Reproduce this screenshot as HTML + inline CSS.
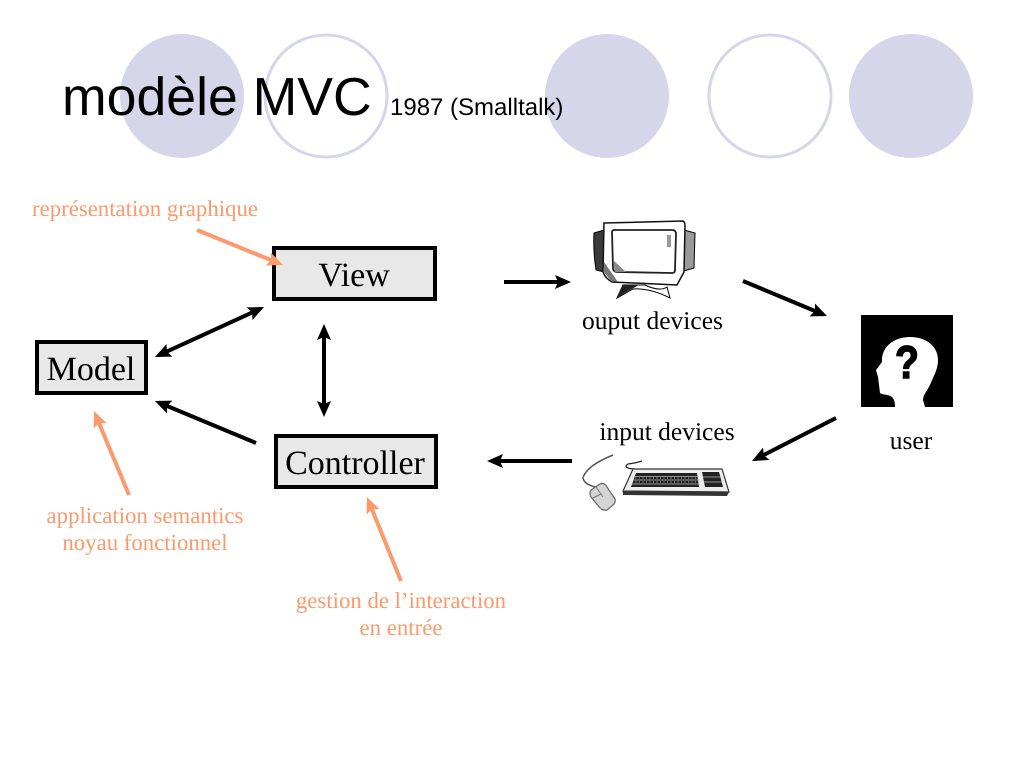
<!DOCTYPE html>
<html>
<head>
<meta charset="utf-8">
<style>
html,body{margin:0;padding:0;background:#fff;width:1024px;height:768px;overflow:hidden}
svg{display:block;text-rendering:geometricPrecision}
.s{font-family:"Liberation Serif",serif}
.o{fill:#fb9a6c;font-size:22.8px;text-anchor:middle}
.b{fill:#000;font-size:34px;text-anchor:middle}
.l{fill:#000;font-size:25.5px;text-anchor:middle}
</style>
</head>
<body>
<svg width="1024" height="768" viewBox="0 0 1024 768" xmlns="http://www.w3.org/2000/svg">
<defs>
<marker id="k" markerUnits="userSpaceOnUse" markerWidth="16" markerHeight="14" refX="12" refY="7" orient="auto-start-reverse"><path d="M0 0L16 7L0 14L3 7Z" fill="#000"/></marker>
<marker id="p" markerUnits="userSpaceOnUse" markerWidth="16" markerHeight="14" refX="12" refY="7" orient="auto"><path d="M0 0L16 7L0 14L3 7Z" fill="#fb9a6c"/></marker>
</defs>
<rect width="1024" height="768" fill="#fff"/>
<circle cx="182" cy="96" r="62" fill="#d6d6eb"/>
<circle cx="326" cy="96" r="61" fill="#fff" stroke="#d6d6eb" stroke-width="3"/>
<circle cx="607" cy="96" r="62" fill="#d6d6eb"/>
<circle cx="770" cy="96" r="61" fill="#fff" stroke="#d6d6eb" stroke-width="3"/>
<circle cx="911" cy="96" r="62" fill="#d6d6eb"/>
<text x="62" y="115" font-family="'Liberation Sans',sans-serif" font-size="53.6" fill="#000">modèle MVC</text>
<text x="390" y="115" font-family="'Liberation Sans',sans-serif" font-size="24" fill="#000">1987 (Smalltalk)</text>

<rect x="274" y="248" width="161" height="51" fill="#e8e8e8" stroke="#000" stroke-width="4"/>
<rect x="37" y="342" width="109" height="51" fill="#e8e8e8" stroke="#000" stroke-width="4"/>
<rect x="276" y="436" width="160" height="51" fill="#e8e8e8" stroke="#000" stroke-width="4"/>
<text class="s b" x="354" y="286">View</text>
<text class="s b" x="91" y="380">Model</text>
<text class="s b" x="355" y="474">Controller</text>

<g stroke="#000" stroke-width="4" fill="none">
<line x1="158.6" y1="355.3" x2="260.4" y2="308.7" marker-start="url(#k)" marker-end="url(#k)"/>
<line x1="324" y1="328" x2="324" y2="413" marker-start="url(#k)" marker-end="url(#k)"/>
<line x1="256" y1="443" x2="158.7" y2="402.5" marker-end="url(#k)"/>
<line x1="504" y1="282" x2="567" y2="282" marker-end="url(#k)"/>
<line x1="743" y1="281" x2="823.3" y2="314.5" marker-end="url(#k)"/>
<line x1="836" y1="418" x2="755.6" y2="459.2" marker-end="url(#k)"/>
<line x1="572" y1="461" x2="491" y2="461" marker-end="url(#k)"/>
</g>
<g stroke="#fb9a6c" stroke-width="4" fill="none">
<line x1="197" y1="230" x2="279.3" y2="263.5" marker-end="url(#p)"/>
<line x1="129" y1="495" x2="95.5" y2="414.7" marker-end="url(#p)"/>
<line x1="401" y1="581" x2="368.5" y2="500.7" marker-end="url(#p)"/>
</g>

<text class="s o" x="145" y="216">représentation graphique</text>
<text class="s o" x="145" y="523">application semantics</text>
<text class="s o" x="145" y="550">noyau fonctionnel</text>
<text class="s o" x="401" y="608">gestion de l’interaction</text>
<text class="s o" x="401" y="635">en entrée</text>
<text class="s l" x="652.5" y="329">ouput devices</text>
<text class="s l" x="667" y="440">input devices</text>
<text class="s l" x="911" y="449">user</text>

<!-- monitor -->
<g>
<path d="M594 233L604 230V272L596 270Q593 250 594 233Z" fill="#3a3a3a" stroke="#000"/>
<path d="M684 230L695 233L694 268L684 271Z" fill="#999" stroke="#000"/>
<path d="M604 223L683 221Q685 222 685 226L684 272L677 285L612 282Q605 278 603 272Z" fill="#fff" stroke="#111" stroke-width="1.5"/>
<path d="M612 232Q612 230 615 230L672 230Q676 230 676 234L675 270Q675 273 672 273L618 272Q613 272 613 268Z" fill="#fff" stroke="#222" stroke-width="1.8"/>
<path d="M613 260L626 272L615 272Z" fill="#888"/>
<rect x="667" y="235" width="4" height="12" fill="#999"/>
<path d="M604 262L618 282L611 281L604 272Z" fill="#777"/>
<path d="M623 285L645 285Q660 292 667 287L670 298Q650 288 633 289L617 298Z" fill="#fff" stroke="#000"/>
<path d="M617 298L623 285L639 285L628 291Z" fill="#222"/>
</g>

<!-- mouse and keyboard -->
<g>
<path d="M613 455Q586 466 583 478Q584 484 595 487" fill="none" stroke="#555" stroke-width="1.5"/>
<path d="M591 490L600 484Q604 482 607 487L615 499Q616 503 612 506L607 510Q603 511 600 508L591 497Q589 493 591 490Z" fill="#d4d4d4" stroke="#666" stroke-width="1.2"/>
<path d="M596 487L603 497M601 494L593 498" stroke="#777" fill="none"/>
<path d="M634 469Q622 468 628 464Q636 463 642 461" fill="none" stroke="#222" stroke-width="1.2"/>
<path d="M633 469L722 469L729 492L623 491Z" fill="#eee" stroke="#333" stroke-width="1.2"/>
<path d="M636 473H697L699 487H631Z" fill="#222"/>
<path d="M702 472H719L723 487H705Z" fill="#222"/>
<g stroke="#bbb" stroke-width="0.7" fill="none">
<path d="M635 476.5H699M633 480H699.5M632 484H700M703 477H720M704 482H722"/>
<path d="M632 478H700M632 482H700" stroke-dasharray="1 2.5" stroke="#ddd"/>
</g>
<path d="M623 491L729 492L727 496L623 495Z" fill="#333"/>
</g>

<!-- user -->
<rect x="861" y="315" width="92" height="92" fill="#000"/>
<path d="M895 407C895 402 894 399 892 397C888 394 882 395 880 393L879 385L878 377L876 370L882 362C881 346 895 337 910 337C927 337 938 347 938 360C938 370 933 377 930 385C927 391 923 395 923 400L925 407Z" fill="#fff"/>
<text transform="translate(907,378) scale(0.85,1)" x="0" y="0" font-family="'Liberation Sans',sans-serif" font-weight="bold" font-size="46" text-anchor="middle" fill="#000" stroke="#000" stroke-width="1.5">?</text>
</svg>
</body>
</html>
